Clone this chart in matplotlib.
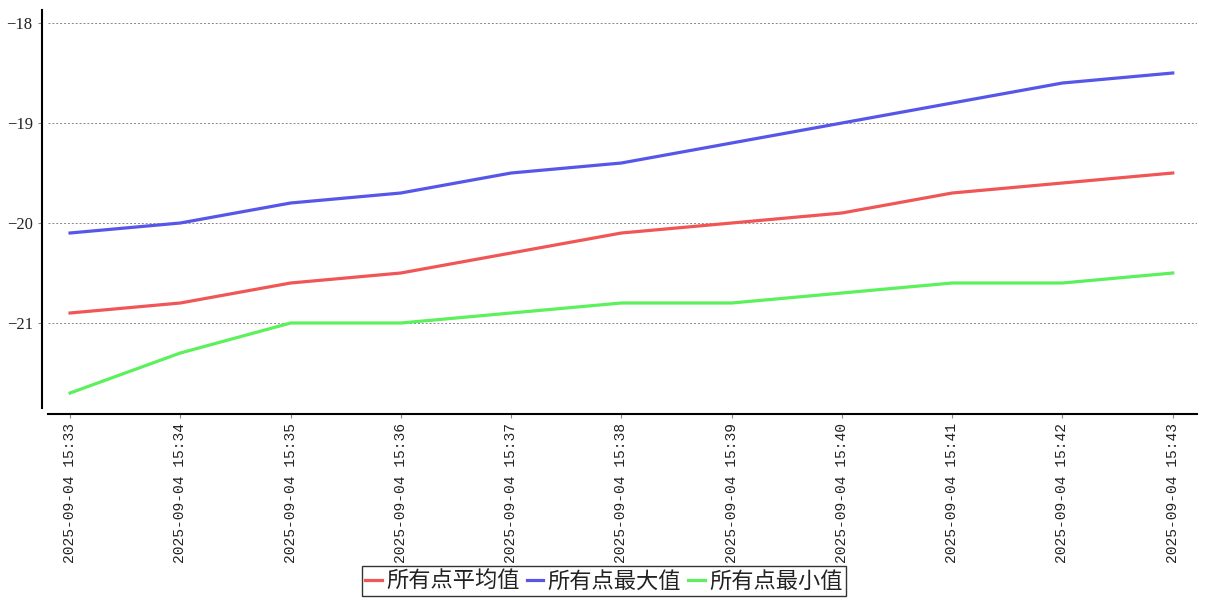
import matplotlib
matplotlib.use("Agg")
import matplotlib.pyplot as plt

times = ["2025-09-04 15:33", "2025-09-04 15:34", "2025-09-04 15:35", "2025-09-04 15:36",
         "2025-09-04 15:37", "2025-09-04 15:38", "2025-09-04 15:39", "2025-09-04 15:40",
         "2025-09-04 15:41", "2025-09-04 15:42", "2025-09-04 15:43"]
avg_vals = [-20.9, -20.8, -20.6, -20.5, -20.3, -20.1, -20.0, -19.9, -19.7, -19.6, -19.5]
max_vals = [-20.1, -20.0, -19.8, -19.7, -19.5, -19.4, -19.2, -19.0, -18.8, -18.6, -18.5]
min_vals = [-21.7, -21.3, -21.0, -21.0, -20.9, -20.8, -20.8, -20.7, -20.6, -20.6, -20.5]
series_names = ["所有点平均值", "所有点最大值", "所有点最小值"]
yticks = [-21, -20, -19, -18]

plt.rcParams["font.family"] = ["Noto Sans CJK SC", "DejaVu Sans"]

W, H = 1207, 600
fig = plt.figure(figsize=(W / 100, H / 100), dpi=100)
ax = fig.add_axes([48 / W, 1 - 408 / H, (1197 - 48) / W, (408 - 10) / H])

# spines first: set_position resets the tick labels
for s in ["top", "right"]:
    ax.spines[s].set_visible(False)
ax.spines["left"].set_position(("outward", 4))
ax.spines["bottom"].set_position(("outward", 4))
ax.spines["left"].set_linewidth(1.5)
ax.spines["bottom"].set_linewidth(1.5)

x = list(range(len(times)))
ax.plot(x, avg_vals, color="#f05656", lw=2.3, label=series_names[0])
ax.plot(x, max_vals, color="#5656e8", lw=2.3, label=series_names[1])
ax.plot(x, min_vals, color="#5cf05c", lw=2.3, label=series_names[2])

ax.set_xlim(-0.2, 10.22)
ax.set_ylim(-21.85, -17.87)
ax.set_yticks(yticks)
ax.set_yticklabels([f"\u2212{abs(v)}" for v in yticks], fontfamily="Liberation Serif",
                   fontsize=12, color="#222222")
ax.set_xticks(x)
ax.set_xticklabels(times, rotation=90, fontfamily="Liberation Mono", fontsize=10.5,
                   color="#222222")
ax.tick_params(axis="both", length=3, width=0.8, color="#888888")
ax.tick_params(axis="y", pad=4)

ax.grid(axis="y", linestyle=(0, (2, 2)), color="#888888", lw=0.7)
ax.set_axisbelow(True)

leg = fig.legend(loc="center", bbox_to_anchor=(604 / W, 1 - 581 / H), ncol=3,
                 fontsize=16, frameon=True, fancybox=False, handlelength=0.75,
                 handletextpad=0.2, columnspacing=0.3, borderpad=0.15,
                 edgecolor="black", labelcolor="#222222")
leg.get_frame().set_linewidth(1.0)

fig.savefig("out.png", dpi=100)
